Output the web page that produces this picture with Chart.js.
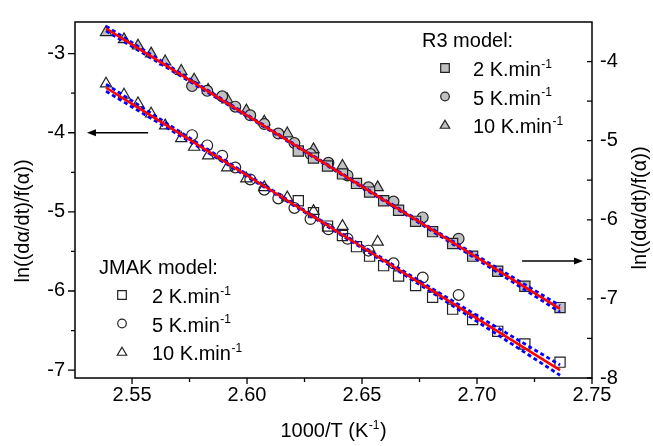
<!DOCTYPE html>
<html>
<head>
<meta charset="utf-8">
<script src="https://cdn.jsdelivr.net/npm/chart.js@4.4.0/dist/chart.umd.min.js"></script>
<style>
  html, body { margin: 0; padding: 0; background: #fff; }
  #wrap { width: 653px; height: 446px; }
</style>
</head>
<body>
<div id="wrap"><canvas id="chart" width="653" height="446"></canvas></div>
<script>
const FONT = "'Liberation Sans', Arial, sans-serif";

// 1000/T (K^-1) for each heating rate
const x2K = [2.6223, 2.6289, 2.6350, 2.6415, 2.6476, 2.6533, 2.6594, 2.6659, 2.6733, 2.6807, 2.6894, 2.6981, 2.7090, 2.7208, 2.7361];
const x5K = [2.5761, 2.5827, 2.5892, 2.5949, 2.6014, 2.6075, 2.6136, 2.6206, 2.6276, 2.6354, 2.6437, 2.6528, 2.6637, 2.6764, 2.6920];
const x10K = [2.5387, 2.5465, 2.5526, 2.5583, 2.5644, 2.5714, 2.5770, 2.5831, 2.5914, 2.5997, 2.6075, 2.6175, 2.6289, 2.6415, 2.6568];

// R3 model (right axis)
const r3_2K = [-5.13, -5.22, -5.32, -5.42, -5.54, -5.65, -5.76, -5.88, -6.02, -6.15, -6.30, -6.46, -6.65, -6.84, -7.11];
const r3_5K = [-4.31, -4.37, -4.44, -4.57, -4.68, -4.79, -4.91, -5.03, -5.17, -5.28, -5.44, -5.59, -5.77, -5.97, -6.24];
const r3_10K = [-3.63, -3.72, -3.80, -3.90, -4.00, -4.12, -4.23, -4.36, -4.48, -4.62, -4.76, -4.91, -5.11, -5.32, -5.59];

// JMAK model (left axis)
const jm_2K = [-4.86, -5.01, -5.18, -5.30, -5.44, -5.56, -5.68, -5.81, -5.93, -6.08, -6.23, -6.36, -6.51, -6.67, -6.90];
const jm_5K = [-4.03, -4.16, -4.29, -4.44, -4.59, -4.72, -4.83, -4.95, -5.09, -5.22, -5.34, -5.49, -5.65, -5.83, -6.05];
const jm_10K = [-3.38, -3.52, -3.63, -3.76, -3.91, -4.07, -4.18, -4.29, -4.44, -4.58, -4.69, -4.82, -4.99, -5.18, -5.38];

// linear fits and confidence bands
const fitX = [2.5387, 2.58, 2.63, 2.68, 2.7361];
const r3Fit = [-3.582, -4.324, -5.221, -6.119, -7.126];
const r3Hi = [-3.552, -4.309, -5.213, -6.104, -7.086];
const r3Lo = [-3.612, -4.339, -5.229, -6.134, -7.166];
const jmFit = [-3.431, -4.178, -5.082, -5.986, -7.000];
const jmHi = [-3.386, -4.158, -5.070, -5.961, -6.935];
const jmLo = [-3.476, -4.198, -5.094, -6.011, -7.065];

// ticks
const xTicks = [2.55, 2.60, 2.65, 2.70, 2.75];
const xMinor = [2.575, 2.625, 2.675, 2.725];
const leftTicks = [-7, -6, -5, -4, -3];
const leftMinor = [-6.5, -5.5, -4.5, -3.5];
const rightTicks = [-8, -7, -6, -5, -4];
const rightMinor = [-7.5, -6.5, -5.5, -4.5];

// arrows pointing at each axis: [x1, x2, y]
const arrowLeft = [2.557, 2.5304, -4.0];
const arrowRight = [2.7196, 2.7461, -6.52];

const rateLabels = ['2 K.min', '5 K.min', '10 K.min'];
const markerStyles = ['rect', 'circle', 'triangle'];

const pts = (xs, ys) => xs.map((x, i) => ({x: x, y: ys[i]}));

function markerSet(label, xs, ys, style, fill, axis) {
    return {
        label: label,
        data: pts(xs, ys),
        yAxisID: axis,
        pointStyle: style,
        pointRadius: style === 'rect' ? 7.2 : (style === 'circle' ? 5.4 : 6.5),
        backgroundColor: fill,
        borderColor: '#222',
        borderWidth: 1.2,
        showLine: false,
        order: 3
    };
}

function lineSet(xs, ys, color, dashed, axis) {
    return {
        data: pts(xs, ys),
        yAxisID: axis,
        showLine: true,
        pointRadius: 0,
        borderColor: color,
        borderWidth: dashed ? 2.8 : 2.6,
        borderDash: dashed ? [4, 3] : [],
        cubicInterpolationMode: 'monotone',
        fill: false,
        order: dashed ? 2 : 1
    };
}

function drawMarker(ctx, style, x, y, r, fill) {
    ctx.beginPath();
    if (style === 'rect') {
        ctx.rect(x - r, y - r, 2 * r, 2 * r);
    } else if (style === 'circle') {
        ctx.arc(x, y, r, 0, Math.PI * 2);
    } else {
        ctx.moveTo(x, y - r * 1.1);
        ctx.lineTo(x + r * 1.1, y + r * 0.75);
        ctx.lineTo(x - r * 1.1, y + r * 0.75);
        ctx.closePath();
    }
    ctx.fillStyle = fill;
    ctx.fill();
    ctx.strokeStyle = '#222';
    ctx.lineWidth = 1.2;
    ctx.stroke();
}

// text followed by a "-1" superscript, optionally a tail
function supText(ctx, text, sup, tail, y, size) {
    ctx.font = size + 'px ' + FONT;
    const w1 = ctx.measureText(text).width;
    ctx.font = Math.round(size * 0.6) + 'px ' + FONT;
    const w2 = ctx.measureText(sup).width;
    ctx.font = size + 'px ' + FONT;
    const w3 = tail ? ctx.measureText(tail).width : 0;
    return {w: w1 + w2 + 1 + w3, draw: function(x0) {
        ctx.font = size + 'px ' + FONT;
        ctx.fillText(text, x0, y);
        ctx.font = Math.round(size * 0.6) + 'px ' + FONT;
        ctx.fillText(sup, x0 + w1 + 0.5, y - size * 0.42);
        if (tail) {
            ctx.font = size + 'px ' + FONT;
            ctx.fillText(tail, x0 + w1 + w2 + 1, y);
        }
    }};
}

function drawArrow(ctx, x1, x2, y) {
    const dir = x2 > x1 ? 1 : -1;
    ctx.beginPath();
    ctx.moveTo(x1, y);
    ctx.lineTo(x2 - dir * 6, y);
    ctx.lineWidth = 1.5;
    ctx.strokeStyle = '#000';
    ctx.stroke();
    ctx.beginPath();
    ctx.moveTo(x2, y);
    ctx.lineTo(x2 - dir * 9, y - 3.5);
    ctx.lineTo(x2 - dir * 9, y + 3.5);
    ctx.closePath();
    ctx.fillStyle = '#000';
    ctx.fill();
}

const decor = {
    id: 'decor',
    afterDraw(chart) {
        const ctx = chart.ctx;
        const a = chart.chartArea;
        const sx = chart.scales.x, sl = chart.scales.y, sr = chart.scales.y2;
        ctx.save();
        ctx.strokeStyle = '#000';
        ctx.lineWidth = 1.5;
        ctx.strokeRect(a.left, a.top, a.right - a.left, a.bottom - a.top);

        ctx.lineWidth = 1.3;
        ctx.beginPath();
        xTicks.forEach(v => { const p = sx.getPixelForValue(v); ctx.moveTo(p, a.bottom); ctx.lineTo(p, a.bottom + 6); });
        xMinor.forEach(v => { const p = sx.getPixelForValue(v); ctx.moveTo(p, a.bottom); ctx.lineTo(p, a.bottom + 4); });
        leftTicks.forEach(v => { const p = sl.getPixelForValue(v); ctx.moveTo(a.left, p); ctx.lineTo(a.left - 7, p); });
        leftMinor.forEach(v => { const p = sl.getPixelForValue(v); ctx.moveTo(a.left, p); ctx.lineTo(a.left - 4, p); });
        rightTicks.forEach(v => { const p = sr.getPixelForValue(v); ctx.moveTo(a.right, p); ctx.lineTo(a.right - 5, p); });
        rightMinor.forEach(v => { const p = sr.getPixelForValue(v); ctx.moveTo(a.right, p); ctx.lineTo(a.right - 5, p); });
        ctx.stroke();

        drawArrow(ctx, sx.getPixelForValue(arrowLeft[0]), sx.getPixelForValue(arrowLeft[1]), sl.getPixelForValue(arrowLeft[2]));
        drawArrow(ctx, sx.getPixelForValue(arrowRight[0]), sx.getPixelForValue(arrowRight[1]), sr.getPixelForValue(arrowRight[2]));

        ctx.fillStyle = '#000';
        ctx.textAlign = 'left';
        ctx.textBaseline = 'alphabetic';

        // R3 legend
        ctx.font = '20px ' + FONT;
        ctx.fillText('R3 model:', 422, 47);
        rateLabels.forEach((t, i) => {
            drawMarker(ctx, markerStyles[i], 445, 68 + i * 28.5, 4.3, '#c0c0c0');
            ctx.fillStyle = '#000';
            supText(ctx, t, '-1', '', 76 + i * 28.5, 20).draw(473);
        });

        // JMAK legend
        ctx.font = '20px ' + FONT;
        ctx.fillText('JMAK model:', 99, 274);
        rateLabels.forEach((t, i) => {
            drawMarker(ctx, markerStyles[i], 122, 295 + i * 28.5, 4.3, '#fff');
            ctx.fillStyle = '#000';
            supText(ctx, t, '-1', '', 303 + i * 28.5, 20).draw(152);
        });

        // x title
        const xt = supText(ctx, '1000/T (K', '-1', ')', 437, 20);
        xt.draw((a.left + a.right) / 2 - xt.w / 2);

        // y titles
        ctx.font = '20px ' + FONT;
        ctx.textAlign = 'center';
        ctx.textBaseline = 'middle';
        const yTitle = 'ln((d\u03b1/dt)/f(\u03b1))';
        ctx.save();
        ctx.translate(23, 221);
        ctx.rotate(-Math.PI / 2);
        ctx.fillText(yTitle, 0, 0);
        ctx.restore();
        ctx.save();
        ctx.translate(640, 208);
        ctx.rotate(-Math.PI / 2);
        ctx.fillText(yTitle, 0, 0);
        ctx.restore();
        ctx.restore();
    }
};

const tickFont = {family: FONT, size: 20};

new Chart(document.getElementById('chart'), {
    type: 'scatter',
    data: {
        datasets: [
            lineSet(fitX, r3Fit, '#ff0000', false, 'y2'),
            lineSet(fitX, jmFit, '#ff0000', false, 'y'),
            lineSet(fitX, r3Hi, '#0000ff', true, 'y2'),
            lineSet(fitX, r3Lo, '#0000ff', true, 'y2'),
            lineSet(fitX, jmHi, '#0000ff', true, 'y'),
            lineSet(fitX, jmLo, '#0000ff', true, 'y'),
            markerSet('R3 2 K/min', x2K, r3_2K, 'rect', '#c0c0c0', 'y2'),
            markerSet('R3 5 K/min', x5K, r3_5K, 'circle', '#c0c0c0', 'y2'),
            markerSet('R3 10 K/min', x10K, r3_10K, 'triangle', '#c0c0c0', 'y2'),
            markerSet('JMAK 2 K/min', x2K, jm_2K, 'rect', 'rgba(255,255,255,0)', 'y'),
            markerSet('JMAK 5 K/min', x5K, jm_5K, 'circle', 'rgba(255,255,255,0)', 'y'),
            markerSet('JMAK 10 K/min', x10K, jm_10K, 'triangle', 'rgba(255,255,255,0)', 'y')
        ]
    },
    options: {
        responsive: false,
        animation: false,
        devicePixelRatio: 1,
        layout: {padding: {top: 13, left: 0, right: 0, bottom: 0}},
        plugins: {
            legend: {display: false},
            tooltip: {enabled: false}
        },
        scales: {
            x: {
                type: 'linear',
                min: 2.5252,
                max: 2.75,
                afterFit: s => { s.height = 68; },
                afterBuildTicks: s => { s.ticks = xTicks.map(v => ({value: v})); },
                grid: {display: false, drawTicks: false},
                border: {display: false},
                ticks: {font: tickFont, color: '#000', padding: 5, maxRotation: 0, autoSkip: false,
                        callback: v => Number(v).toFixed(2)}
            },
            y: {
                position: 'left',
                min: -7.1,
                max: -2.6,
                afterFit: s => { s.width = 75; },
                afterBuildTicks: s => { s.ticks = leftTicks.map(v => ({value: v})); },
                grid: {display: false, drawTicks: false},
                border: {display: false},
                ticks: {font: tickFont, color: '#000', padding: 10, autoSkip: false,
                        callback: v => String(v)}
            },
            y2: {
                position: 'right',
                min: -8,
                max: -3.5,
                afterFit: s => { s.width = 61; },
                afterBuildTicks: s => { s.ticks = rightTicks.map(v => ({value: v})); },
                grid: {display: false, drawTicks: false},
                border: {display: false},
                ticks: {font: tickFont, color: '#000', padding: 8, autoSkip: false,
                        callback: v => String(v)}
            }
        }
    },
    plugins: [decor]
});
</script>
</body>
</html>
